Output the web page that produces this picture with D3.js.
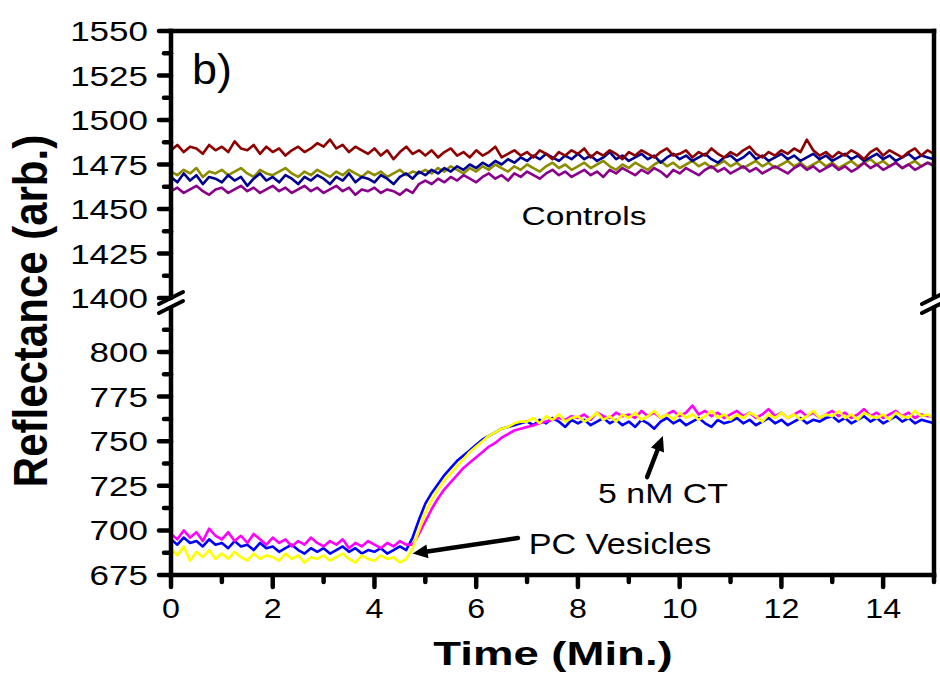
<!DOCTYPE html>
<html><head><meta charset="utf-8">
<script src="https://cdn.jsdelivr.net/npm/d3@7"></script>
<style>body{margin:0;background:#fff;}svg{display:block;}text{font-family:"Liberation Sans",Arial,sans-serif;fill:#000;}</style>
</head><body><svg id="c" width="940" height="679"></svg>
<script>
// ---- data (time step 0.125 min, 0..15) ----
const timeStep = 0.125;
const xTicks = [0,2,4,6,8,10,12,14];
const yTicksTop = [1400,1425,1450,1475,1500,1525,1550];
const yTicksBottom = [675,700,725,750,775,800];

const controlRed = [1483,1486,1482,1485,1484,1481,1486,1483,1485,1482,1488,1484,1483,1486,1481,1485,1482,1484,1480,1483,1485,1482,1484,1487,1485,1489,1484,1486,1482,1485,1483,1481,1484,1480,1483,1478,1482,1485,1481,1483,1480,1483,1479,1482,1484,1480,1482,1479,1483,1480,1482,1485,1479,1481,1483,1480,1482,1479,1483,1481,1478,1482,1480,1483,1481,1484,1479,1482,1480,1483,1481,1478,1482,1480,1483,1481,1479,1482,1484,1480,1481,1483,1479,1482,1480,1484,1481,1479,1482,1480,1483,1485,1481,1479,1482,1480,1483,1481,1484,1482,1489,1483,1480,1482,1479,1482,1480,1483,1481,1478,1482,1484,1480,1483,1481,1479,1482,1484,1480,1483,1481];
const controlNavy = [1468,1465,1470,1466,1469,1464,1468,1467,1465,1469,1466,1468,1463,1467,1470,1466,1468,1465,1469,1467,1464,1468,1466,1469,1467,1464,1468,1466,1470,1465,1468,1467,1465,1469,1467,1464,1468,1470,1467,1471,1469,1472,1470,1473,1471,1474,1472,1475,1473,1476,1474,1477,1475,1478,1476,1479,1477,1480,1478,1481,1479,1477,1480,1478,1481,1478,1480,1477,1479,1482,1478,1480,1477,1479,1481,1478,1480,1476,1479,1481,1478,1480,1477,1479,1481,1478,1476,1479,1480,1477,1479,1482,1478,1480,1477,1479,1481,1478,1480,1477,1479,1481,1478,1480,1477,1479,1481,1478,1480,1477,1479,1481,1478,1480,1477,1479,1481,1478,1480,1479,1478];
const controlOlive = [1471,1469,1472,1470,1473,1468,1471,1470,1472,1469,1471,1473,1470,1468,1472,1470,1469,1471,1473,1470,1468,1471,1469,1472,1470,1468,1471,1469,1472,1470,1468,1471,1469,1471,1468,1470,1472,1469,1471,1470,1472,1470,1473,1471,1474,1472,1470,1473,1471,1474,1472,1475,1473,1471,1474,1472,1475,1473,1471,1474,1476,1473,1475,1472,1474,1476,1473,1475,1477,1474,1472,1475,1473,1476,1474,1472,1475,1477,1474,1476,1473,1475,1477,1474,1476,1473,1475,1477,1474,1476,1473,1475,1477,1474,1476,1473,1475,1477,1474,1476,1473,1475,1477,1474,1476,1473,1475,1477,1474,1476,1478,1475,1477,1474,1476,1473,1475,1477,1474,1476,1475];
const controlPurple = [1460,1462,1459,1461,1463,1460,1458,1461,1462,1459,1461,1463,1460,1462,1459,1461,1463,1460,1462,1459,1461,1463,1460,1462,1459,1461,1463,1460,1462,1458,1461,1460,1462,1459,1461,1460,1458,1461,1459,1464,1466,1464,1467,1465,1468,1466,1469,1467,1465,1468,1470,1467,1469,1466,1470,1468,1471,1469,1467,1470,1472,1469,1471,1468,1470,1472,1469,1471,1468,1472,1470,1473,1471,1469,1472,1470,1473,1471,1468,1472,1470,1473,1471,1469,1472,1474,1471,1473,1470,1472,1474,1471,1473,1470,1472,1474,1472,1470,1473,1475,1472,1474,1471,1473,1475,1472,1474,1471,1473,1476,1473,1475,1472,1474,1476,1473,1475,1472,1474,1476,1474];

const vesicleBlue = [695,692,696,693,694,691,695,692,693,690,694,691,692,689,693,690,691,688,690,692,689,687,690,688,690,687,689,691,688,690,687,689,688,690,687,689,691,689,696,706,715,721,726,731,735,739,742,745,748,751,753,755,757,758,759,760,761,759,762,760,763,761,758,762,760,762,759,761,763,760,762,759,761,758,762,760,757,761,763,760,762,759,761,763,760,758,762,760,761,763,760,762,759,761,763,760,762,759,761,763,760,762,761,763,764,761,763,760,762,764,761,763,760,762,764,761,763,760,762,761,760];
const vesicleMagenta = [698,695,700,696,699,694,701,697,695,699,694,697,693,698,695,692,696,693,695,691,694,692,696,693,691,694,692,695,690,693,691,694,692,690,693,691,694,692,692,698,705,712,718,723,727,731,735,738,741,744,747,749,752,754,756,757,758,759,760,761,762,763,762,764,763,765,762,766,764,763,766,764,765,763,767,764,766,763,765,767,764,766,770,765,767,764,766,763,765,767,764,766,763,765,768,764,766,763,765,767,764,766,763,765,767,764,766,763,765,768,764,766,763,765,767,764,766,763,765,764,764];
const vesicleYellow = [690,686,691,683,688,685,689,684,687,684,688,685,683,687,684,686,685,683,687,684,686,682,685,684,686,683,685,687,684,682,686,684,683,686,684,685,682,684,690,700,710,717,723,728,732,736,740,744,747,750,753,755,757,758,760,761,761,763,760,764,762,765,761,763,764,761,763,766,762,764,761,765,763,766,762,764,767,763,765,762,766,763,765,762,764,767,763,765,762,765,763,766,764,761,765,763,766,763,765,762,764,767,763,765,764,767,763,765,762,766,764,763,765,762,766,764,763,767,764,765,763];

const topSeries = [
  {name:"olive", values: controlOlive, color:"#8c8c00"},
  {name:"purple", values: controlPurple, color:"#8a008a"},
  {name:"navy", values: controlNavy, color:"#000090"},
  {name:"red", values: controlRed, color:"#8e0000"}
];
const bottomSeries = [
  {name:"blue", values: vesicleBlue, color:"#0000ff"},
  {name:"magenta", values: vesicleMagenta, color:"#ff00ff"},
  {name:"yellow", values: vesicleYellow, color:"#ffff00"}
];

// ---- layout ----
const svg = d3.select("#c");
const X0 = 171, X1 = 934;
const x = d3.scaleLinear().domain([0,15]).range([X0, X1]);
const yTop = d3.scaleLinear().domain([1400,1550]).range([298, 31]);
const yBot = d3.scaleLinear().domain([675,825]).range([575, 307.4]);

function drawLines(series, y){
  const line = d3.line().x((d,i)=>x(i*timeStep)).y(d=>y(d));
  svg.append("g").selectAll("path").data(series).join("path")
    .attr("d", d=>line(d.values)).attr("fill","none")
    .attr("stroke", d=>d.color).attr("stroke-width", 2.6).attr("stroke-linejoin","round");
}
drawLines(topSeries, yTop);
drawLines(bottomSeries, yBot);

// frame
const AW = 4.5;
const frame = svg.append("g").attr("stroke","#000").attr("stroke-width",AW).attr("fill","none").attr("stroke-linecap","square");
frame.append("line").attr("x1",X0).attr("x2",X1).attr("y1",31).attr("y2",31);
frame.append("line").attr("x1",X0).attr("x2",X1).attr("y1",575).attr("y2",575);
[X0, X1].forEach(ax=>{
  frame.append("line").attr("x1",ax).attr("x2",ax).attr("y1",31).attr("y2",296);
  frame.append("line").attr("x1",ax).attr("x2",ax).attr("y1",309).attr("y2",575);
});
// break marks
[X0, X1].forEach(ax=>{
  const g = svg.append("g").attr("stroke","#000").attr("stroke-width",4).attr("stroke-linecap","round");
  g.append("line").attr("x1",ax-12).attr("y1",304).attr("x2",ax+12).attr("y2",292);
  g.append("line").attr("x1",ax-12).attr("y1",313).attr("x2",ax+12).attr("y2",301);
});

// ticks
const tickG = svg.append("g").attr("stroke","#000").attr("stroke-linecap","round");
function yTickMarks(y, majors){
  const step = majors[1]-majors[0];
  majors.forEach((v,i)=>{
    tickG.append("line").attr("x1",X0-12).attr("x2",X0).attr("y1",y(v)).attr("y2",y(v)).attr("stroke-width",4.5);
    if(i<majors.length-1 || y===yBot){
      const m = v+step/2;
      tickG.append("line").attr("x1",X0-7).attr("x2",X0).attr("y1",y(m)).attr("y2",y(m)).attr("stroke-width",4.5);
    }
  });
}
yTickMarks(yTop, yTicksTop);
yTickMarks(yBot, yTicksBottom);
d3.range(0,16).forEach(v=>{
  const major = v%2===0;
  tickG.append("line").attr("x1",x(v)).attr("x2",x(v)).attr("y1",575).attr("y2",major?587:582).attr("stroke-width",4.5);
});

function stretchedText(tx, ty, str, size, sx, anchor, weight){
  return svg.append("text").attr("transform",`translate(${tx},${ty}) scale(${sx},1)`)
    .attr("text-anchor",anchor).attr("font-size",size).attr("font-weight",weight||"normal").text(str);
}
// tick labels
yTicksTop.forEach(v=>stretchedText(148, yTop(v)+10, v, 28, 1.25, "end"));
yTicksBottom.forEach(v=>stretchedText(148, yBot(v)+10, v, 28, 1.25, "end"));
xTicks.forEach(v=>stretchedText(x(v), 618, v, 28, 1.15, "middle"));

// axis titles
stretchedText(553, 665, "Time (Min.)", 33, 1.38, "middle", "bold");
svg.append("text").attr("transform","translate(47,311) scale(1.13,1) rotate(-90)")
  .attr("text-anchor","middle").attr("font-size",42).attr("font-weight","bold").text("Reflectance (arb.)");

// annotations
stretchedText(192, 84, "b)", 42, 1.07, "start");
stretchedText(584, 225, "Controls", 26, 1.29, "middle");
stretchedText(663, 503, "5 nM CT", 28, 1.21, "middle");
stretchedText(620, 554, "PC Vesicles", 29, 1.18, "middle");

function arrow(x1,y1,x2,y2){
  const ang = Math.atan2(y2-y1, x2-x1);
  const L = 15, W = 7;
  const bx = x2 - L*Math.cos(ang), by = y2 - L*Math.sin(ang);
  svg.append("line").attr("x1",x1).attr("y1",y1).attr("x2",bx).attr("y2",by)
    .attr("stroke","#000").attr("stroke-width",4.5).attr("stroke-linecap","round");
  const px = -Math.sin(ang), py = Math.cos(ang);
  svg.append("path").attr("d",`M${x2},${y2}L${bx+W*px},${by+W*py}L${bx-W*px},${by-W*py}Z`).attr("fill","#000");
}
arrow(x(6.82), yBot(695.7), x(4.75), yBot(687));
arrow(x(9.36), yBot(729.9), x(9.67), yBot(752.9));
</script></body></html>
